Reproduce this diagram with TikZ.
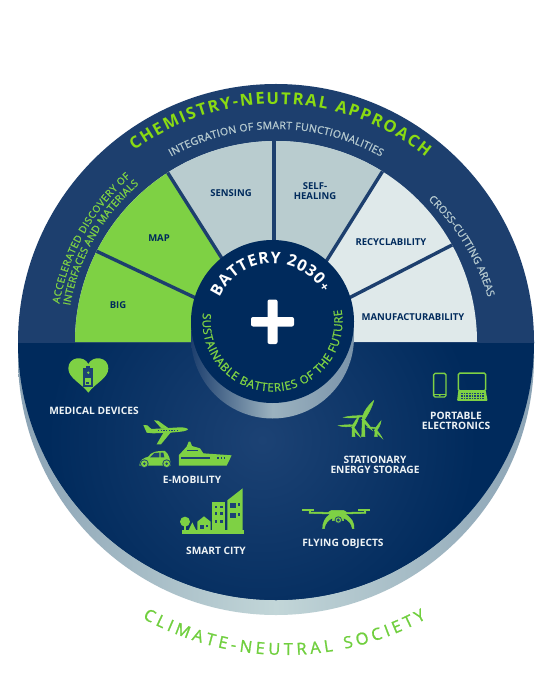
\documentclass[tikz,border=0pt]{standalone}
\usepackage{fontspec}
\setmainfont{Open Sans}
\newfontface\medfont{Open Sans}[FakeBold=1.2]
\usetikzlibrary{calc,decorations.text}
\definecolor{band}{HTML}{1D3F6E}
\definecolor{deepnavy}{HTML}{002A5C}
\definecolor{midnavy}{HTML}{1C4274}
\definecolor{leaf}{HTML}{7ED144}
\definecolor{lime}{HTML}{8ADB12}
\definecolor{climate}{HTML}{70CF3E}
\definecolor{sage}{HTML}{B9CCCF}
\definecolor{pale}{HTML}{DFE9EA}
\definecolor{ringedge}{HTML}{8BA3B5}
\definecolor{ringmid}{HTML}{C2D6D8}
\definecolor{softtext}{HTML}{B4C8CE}
\definecolor{whitetext}{HTML}{EEF3F5}
\newcommand{\curvetxt}[6]{%
  \path[decorate,decoration={text along path,text align={fit to path},text={#5#6}}]
    ($(#1)+(#3:#2pt)$) arc[start angle=#3,end angle=#4,radius=#2pt];}
\tikzset{
  darklabel/.style={font=\fontsize{9.5}{10.2}\selectfont\bfseries,text=deepnavy,align=center,inner sep=0pt},
  lightlabel/.style={font=\fontsize{10.2}{10.4}\selectfont\bfseries,text=whitetext,align=center,inner sep=0pt},
  icon/.style={fill=leaf,draw=none},
  thickicon/.style={fill=leaf,draw=leaf,line width=.5pt},
  iconhole/.style={fill=midnavy,draw=none},
  divider/.style={draw=band,line width=3.4pt}
}
\begin{document}
\begin{tikzpicture}[x=1pt,y=-1pt]
\useasboundingbox (0,0) rectangle (553,700);
\fill[white] (0,0) rectangle (553,700);
\coordinate (C) at (276,342);
\coordinate (H) at (272.5,321.5);
% drop ring
\begin{scope}
  \clip (0,342) rectangle (553,700);
  \shade[left color=ringedge,right color=ringedge,middle color=ringmid] (276,357) circle[radius=258pt];
\end{scope}
% lower panel
\begin{scope}
  \clip (0,342) rectangle (553,700);
  \fill[deepnavy] (C) circle[radius=258pt];
  \clip (C) circle[radius=258pt];
  \shade[inner color=midnavy,outer color=deepnavy] (262,440) circle[radius=215pt];
\end{scope}
% upper band
\begin{scope}
  \clip (0,0) rectangle (553,342);
  \fill[band] (C) circle[radius=258pt];
\end{scope}
% sectors
\begin{scope}
  \clip (0,0) rectangle (553,342);
  \clip (C) circle[radius=201pt];
  \fill[pale] (70,130) rectangle (480,342);
  \fill[sage] (168,173) -- (221,257) -- (274,342) -- (327,260) -- (382,172) -- (382,100) -- (168,100) -- cycle;
  \fill[leaf] (168,173) -- (274,342) -- (60,342) -- (60,100) -- (168,100) -- cycle;
  \draw[divider] (274,130) -- (274,250);
  \draw[divider] (166,170) -- (228,268);
  \draw[divider] (94,250) -- (200,300);
  \draw[divider] (384,169) -- (322,268);
  \draw[divider] (456,243) -- (345,300);
\end{scope}
% hub
\shade[left color=band,right color=ringedge!85!band,middle color=ringedge!70!ringmid] (272.5,337) circle[radius=81.5pt];
\fill[deepnavy] (H) circle[radius=81.5pt];
\fill[white,rounded corners=2pt] (251,317) rectangle (294,326.5);
\fill[white,rounded corners=2pt] (267.5,299.5) rectangle (277.5,344);
% sector labels
\node[darklabel] (sensing) at (231,193) {SENSING};
\node[darklabel] (map) at (159,238) {MAP};
\node[darklabel] (big) at (118,305) {BIG};
\node[darklabel] (selfheal) at (315,191) {SELF-\\HEALING};
\node[darklabel] (recycle) at (391,242) {RECYCLABILITY};
\node[darklabel] (manuf) at (413,317) {MANUFACTURABILITY};
% lower labels
\node[lightlabel] (medical) at (94,411) {MEDICAL DEVICES};
\node[lightlabel] (mobility) at (192,480) {E-MOBILITY};
\node[lightlabel] (city) at (216,551) {SMART CITY};
\node[lightlabel] (portable) at (456,421) {PORTABLE\\ELECTRONICS};
\node[lightlabel] (storage) at (375,465) {STATIONARY\\ENERGY STORAGE};
\node[lightlabel] (flying) at (343,544) {FLYING OBJECTS};
% curved texts
\curvetxt{C}{238}{126.5}{51}{|\fontsize{16.5}{18}\selectfont\bfseries\color{lime}|}{CHEMISTRY-NEUTRAL APPROACH}
\curvetxt{C}{213}{119.5}{60.5}{|\fontsize{10.5}{12}\medfont\color{softtext}|}{INTEGRATION OF SMART FUNCTIONALITIES}
\curvetxt{C}{220}{170}{131.5}{|\fontsize{10}{12}\medfont\color{leaf}|}{ACCELERATED DISCOVERY OF}
\curvetxt{C}{209}{170}{131}{|\fontsize{10.3}{12}\medfont\color{leaf}|}{INTERFACES AND MATERIALS}
\curvetxt{276,360}{221}{46.5}{16.5}{|\fontsize{10.5}{12}\medfont\color{softtext}|}{CROSS-CUTTING AREAS}
\curvetxt{H}{58}{156}{30}{|\fontsize{16}{16}\selectfont\bfseries\color{white}|}{BATTERY 2030|\fontsize{13}{13}\selectfont\bfseries\color{white}|+}
\curvetxt{H}{70}{173}{370}{|\fontsize{11.5}{12}\medfont\color{leaf}|}{SUSTAINABLE BATTERIES OF THE FUTURE}
\curvetxt{285,361}{294}{241}{298.7}{|\fontsize{16.5}{18}\medfont\color{climate}|}{CLIMATE-NEUTRAL SOCIETY}
% heart
\begin{scope}[shift={(60,350)},x=.3333pt,y=-.3333pt]
  \fill[icon] (85,128) .. controls (65,100) and (25,85) .. (25,55) .. controls (25,20) and (72,15) .. (85,42) .. controls (98,15) and (145,20) .. (145,55) .. controls (145,85) and (105,100) .. (85,128) -- cycle;
  \fill[iconhole] (68,55) rectangle (100,110);
  \fill[iconhole] (77,47) rectangle (91,56);
  \fill[icon] (85,68) circle[radius=4];
  \fill[icon] (75,84) -- (94,84) -- (94,104) -- (75,104) -- cycle;
  \fill[iconhole] (79,97) rectangle (87,101);
\end{scope}
% plane, car, ship
\begin{scope}[shift={(130,415)},x=.3333pt,y=-.3333pt]
  \fill[icon] (40,30) -- (52,31) -- (64,42) -- (150,37) .. controls (162,37) and (172,39) .. (174,43) .. controls (170,48) and (160,50) .. (120,53) -- (70,55) -- (50,53) -- cycle;
  \fill[icon] (72,16) -- (84,17) -- (116,40) -- (95,41) -- cycle;
  \fill[icon] (102,50) -- (124,50) -- (93,88) -- (80,88) -- cycle;
  \foreach \xx in {84,92,...,140} \fill[iconhole] (\xx,44) rectangle (\xx+4,47);
  \fill[icon] (28,152) .. controls (28,135) and (42,128) .. (55,125) .. controls (62,112) and (78,107) .. (105,108) .. controls (116,115) and (122,135) .. (122,152) -- cycle;
  \fill[iconhole] (60,127) -- (73,114) -- (88,113) -- (88,127) -- cycle;
  \fill[iconhole] (92,113) -- (100,113) -- (103,127) -- (92,127) -- cycle;
  \foreach \xx in {43,110} {
    \fill[iconhole] (\xx,146) circle[radius=13];
    \fill[icon] (\xx,146) circle[radius=10];
    \fill[iconhole] (\xx,146) circle[radius=4];
  }
  \fill[icon] (147,152) -- (147,120) -- (170,95) -- (176,80) -- (181,80) -- (186,93) -- (210,100) -- (220,115) -- (305,121) -- (290,152) -- cycle;
  \fill[iconhole] (154,126) rectangle (240,131);
  \fill[iconhole] (172,106) rectangle (205,109);
  \foreach \xx in {262,272,282} \fill[iconhole] (\xx,127) rectangle (\xx+4,132);
\end{scope}
% city
\begin{scope}[shift={(175,485)},x=.3333pt,y=-.3333pt]
  \fill[icon] (22,135) rectangle (208,146);
  \fill[icon] (30,110) circle[radius=15];
  \fill[icon] (28,115) rectangle (33,137);
  \fill[icon] (52,112) -- (64,137) -- (40,137) -- cycle;
  \fill[icon] (67,110) -- (87,94) -- (107,110) -- (107,137) -- (67,137) -- cycle;
  \fill[iconhole] (74,120) rectangle (86,133);
  \fill[iconhole] (92,120) rectangle (100,127);
  \fill[icon] (110,52) rectangle (151,137);
  \foreach \yy in {62,82,106} \foreach \xx in {120,136} \fill[iconhole] (\xx,\yy) rectangle (\xx+7,\yy+8);
  \fill[icon] (157,137) -- (157,46) -- (203,10) -- (203,137) -- cycle;
  \fill[iconhole] (165,54) rectangle (182,70);
  \fill[iconhole] (188,54) rectangle (196,64);
  \fill[iconhole] (165,84) rectangle (182,100);
  \fill[iconhole] (188,84) rectangle (196,94);
\end{scope}
% turbines
\begin{scope}[shift={(335,395)},x=.3333pt,y=-.3333pt]
  \fill[thickicon] (82,72) -- (88,72) -- (90,125) -- (80,125) -- cycle;
  \fill[thickicon] (82,68) .. controls (88,45) and (100,32) .. (116,17) .. controls (110,40) and (100,55) .. (90,72) -- cycle;
  \fill[thickicon] (85,64) .. controls (65,70) and (45,70) .. (27,67) .. controls (45,62) and (65,62) .. (85,62) -- cycle;
  \fill[thickicon] (84,70) .. controls (95,80) and (104,92) .. (112,106) .. controls (100,98) and (90,86) .. (80,74) -- cycle;
  \fill[thickicon] (52,96) -- (57,96) -- (60,125) -- (51,125) -- cycle;
  \fill[thickicon] (56,92) .. controls (40,97) and (25,96) .. (11,92) .. controls (25,90) and (40,88) .. (56,90) -- cycle;
  \fill[thickicon] (52,92) .. controls (58,82) and (64,72) .. (72,62) .. controls (70,76) and (64,88) .. (58,96) -- cycle;
  \fill[thickicon] (54,94) .. controls (62,104) and (70,115) .. (76,126) .. controls (66,118) and (58,108) .. (50,98) -- cycle;
  \fill[thickicon] (120,104) -- (125,104) -- (127,125) -- (119,125) -- cycle;
  \fill[thickicon] (120,102) .. controls (125,94) and (131,86) .. (138,78) .. controls (136,90) and (131,100) .. (125,106) -- cycle;
  \fill[thickicon] (123,100) .. controls (115,102) and (107,100) .. (98,97) .. controls (107,96) and (115,96) .. (123,98) -- cycle;
  \fill[thickicon] (122,102) .. controls (130,110) and (137,120) .. (142,130) .. controls (133,122) and (125,114) .. (118,106) -- cycle;
\end{scope}
% drone
\begin{scope}[shift={(295,500)},x=.3333pt,y=-.3333pt]
  \fill[icon] (20,28) rectangle (56,32);
  \fill[icon] (190,28) rectangle (224,32);
  \fill[icon] (42,28) rectangle (47,38);
  \fill[icon] (208,28) rectangle (213,38);
  \fill[thickicon] (42,36) -- (100,37) -- (110,31) -- (145,31) -- (155,37) -- (213,36) -- (213,40) -- (150,42) .. controls (172,55) and (178,70) .. (177,86) -- (172,86) .. controls (170,70) and (160,60) .. (146,54) -- (146,62) -- (112,62) -- (112,54) .. controls (100,60) and (90,70) .. (88,86) -- (83,86) .. controls (82,70) and (90,52) .. (106,42) -- (42,40) -- cycle;
  \fill[iconhole] (130,60) circle[radius=11];
  \fill[icon] (130,60) circle[radius=8];
  \fill[iconhole] (130,60) circle[radius=5];
\end{scope}
% phone, laptop
\begin{scope}[shift={(425,365)},x=.3333pt,y=-.3333pt]
  \draw[leaf,line width=1.4pt,rounded corners=1.5pt] (26,25) rectangle (63,96);
  \fill[leaf] (44,91) circle[radius=3];
  \fill[leaf] (26,86) rectangle (63,88);
  \draw[leaf,line width=1.5pt,rounded corners=1.5pt] (100,24) rectangle (182,78);
  \fill[leaf,rounded corners=1pt] (100,76) -- (182,76) -- (188,108) -- (96,108) -- cycle;
  \foreach \yy in {84,91,98} \foreach \xx in {108,116,...,172} \fill[iconhole] (\xx,\yy) rectangle (\xx+5,\yy+4);
\end{scope}
\end{tikzpicture}
\end{document}
